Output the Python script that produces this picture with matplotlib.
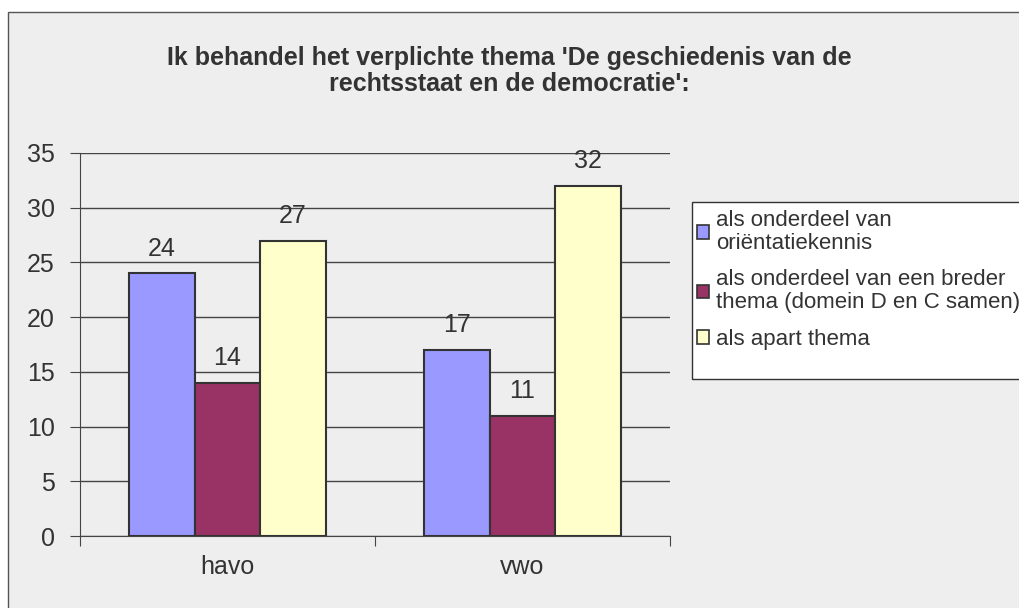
import numpy as np
import matplotlib.pyplot as plt
from matplotlib.patches import Rectangle

categories = ['havo', 'vwo']
series_names = ['als onderdeel van\noriëntatiekennis',
                'als onderdeel van een breder\nthema (domein D en C samen)',
                'als apart thema']
values = [[24, 17], [14, 11], [27, 32]]
colors = ['#9999ff', '#993366', '#ffffcc']
title = "Ik behandel het verplichte thema 'De geschiedenis van de\nrechtsstaat en de democratie':"

plt.rcParams['font.family'] = ['Liberation Sans', 'DejaVu Sans']
txt = '#333333'
bg = '#eeeeee'
W, H = 1019, 608

fig = plt.figure(figsize=(W / 100, H / 100), dpi=100)
fig.patch.set_facecolor('white')

# chart area: grey box with border, running off the right/bottom edge
fig.patches.append(Rectangle((8 / W, -0.01), 1.02, 1 - 12 / H + 0.01, transform=fig.transFigure,
                             facecolor=bg, edgecolor='#555555', lw=1, zorder=-2))

ax = fig.add_axes([80 / W, 1 - 536 / H, 590 / W, 383 / H])
ax.set_facecolor(bg)

x = np.arange(len(categories))
bw = 1 / 4.5
for i, (vals, c) in enumerate(zip(values, colors)):
    pos = x + (i - 1) * bw
    bars = ax.bar(pos, vals, bw, color=c, edgecolor='#333333', lw=1.5, zorder=3)
    for b, v in zip(bars, vals):
        ax.annotate(str(v), (b.get_x() + bw / 2, v), xytext=(0, 9), textcoords='offset points',
                    ha='center', va='bottom', fontsize=18, color=txt)

ax.set_xlim(-0.5, 1.5)
ax.set_ylim(0, 35)
ax.set_yticks(range(0, 36, 5))
ax.yaxis.grid(True, color='#444444', lw=1, zorder=0)
ax.set_axisbelow(True)
ax.set_xticks([-0.5, 0.5, 1.5])
ax.set_xticklabels([])
ax.set_xticks(x, minor=True)
ax.set_xticklabels(categories, minor=True)
ax.tick_params(axis='x', which='minor', length=0, pad=14, labelsize=18, labelcolor=txt)
ax.tick_params(axis='x', which='major', length=7, color='#444444', direction='out')
ax.tick_params(axis='y', length=7, color='#444444', labelsize=18, labelcolor=txt, pad=11)
for s in ['top', 'right']:
    ax.spines[s].set_visible(False)
for s in ['left', 'bottom']:
    ax.spines[s].set_color('#444444')

fig.text(509 / W, 1 - 71 / H, title, ha='center', va='center', fontsize=18,
         color=txt, weight='bold', linespacing=1.1)

# legend box
fig.patches.append(Rectangle((692 / W, 1 - 379 / H), 0.4, 177 / H, transform=fig.transFigure,
                             facecolor='white', edgecolor='#333333', lw=1, zorder=1))
handles = [Rectangle((0, 0), 1, 1, facecolor=c, edgecolor='#333333', lw=1.2) for c in colors]
leg = fig.legend(handles, series_names, loc='upper left', bbox_to_anchor=(697 / W, 1 - 210 / H),
                 frameon=False, fontsize=16, labelcolor=txt, handlelength=0.55, handleheight=0.55,
                 handletextpad=0.3, labelspacing=0.7, borderaxespad=0, borderpad=0)
for t in leg.get_texts():
    t.set_linespacing(1.12)
leg.set_zorder(2)

fig.savefig('out.png', dpi=100, facecolor=fig.get_facecolor())
